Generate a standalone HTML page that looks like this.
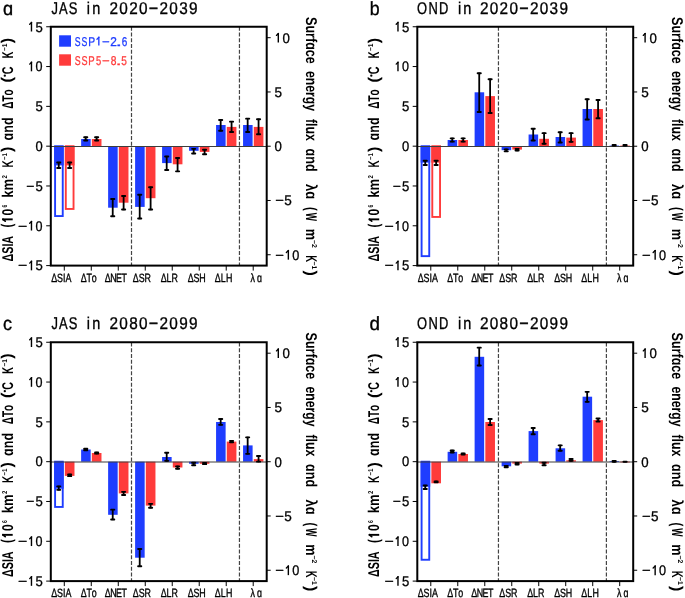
<!DOCTYPE html>
<html><head><meta charset="utf-8"><style>
html,body{margin:0;padding:0;background:#fff;}
svg{display:block;will-change:transform;text-rendering:geometricPrecision;font-family:"Liberation Sans", sans-serif;font-kerning:none;}
</style></head><body>
<svg width="685" height="598" viewBox="0 0 685 598">
<rect width="685" height="598" fill="#fff"/>
<line x1="131.5" y1="26.75" x2="131.5" y2="265.6" stroke="#444" stroke-width="1.2" stroke-dasharray="3.9 1.85" stroke-dashoffset="0"/>
<line x1="239.45" y1="26.75" x2="239.45" y2="265.6" stroke="#444" stroke-width="1.2" stroke-dasharray="3.9 1.85" stroke-dashoffset="0"/>
<rect x="55.09" y="146.2" width="7.65" height="69.85" fill="none" stroke="#1f3dff" stroke-width="1.9"/>
<rect x="54.14" y="146.2" width="9.55" height="19.2" fill="#1f3dff"/>
<rect x="65.79" y="146.2" width="7.75" height="62.75" fill="none" stroke="#ff3b3b" stroke-width="1.9"/>
<rect x="64.84" y="146.2" width="9.65" height="19.2" fill="#ff3b3b"/>
<rect x="81.13" y="139" width="9.55" height="7.2" fill="#1f3dff"/>
<rect x="91.83" y="139" width="9.65" height="7.2" fill="#ff3b3b"/>
<rect x="108.12" y="146.2" width="9.55" height="61.5" fill="#1f3dff"/>
<rect x="118.82" y="146.2" width="9.65" height="56.5" fill="#ff3b3b"/>
<rect x="135.11" y="146.2" width="9.55" height="60.7" fill="#1f3dff"/>
<rect x="145.81" y="146.2" width="9.65" height="52" fill="#ff3b3b"/>
<rect x="162.09" y="146.2" width="9.55" height="16.9" fill="#1f3dff"/>
<rect x="172.79" y="146.2" width="9.65" height="18.1" fill="#ff3b3b"/>
<rect x="189.08" y="146.2" width="9.55" height="4.6" fill="#1f3dff"/>
<rect x="199.78" y="146.2" width="9.65" height="5.7" fill="#ff3b3b"/>
<rect x="216.07" y="125" width="9.55" height="21.2" fill="#1f3dff"/>
<rect x="226.77" y="126.9" width="9.65" height="19.3" fill="#ff3b3b"/>
<rect x="243.06" y="125" width="9.55" height="21.2" fill="#1f3dff"/>
<rect x="253.76" y="126.9" width="9.65" height="19.3" fill="#ff3b3b"/>
<line x1="50.8" y1="146.45" x2="266.7" y2="146.45" stroke="#3c3c3c" stroke-width="1.1"/>
<path d="M58.74 161.9V168.7" stroke="#000" stroke-width="1.8"/>
<path d="M57.14 162.55h3.2M57.14 168.05h3.2" stroke="#000" stroke-width="1.9" stroke-linecap="round"/>
<path d="M69.64 161.8V168.7" stroke="#000" stroke-width="1.8"/>
<path d="M68.04 162.45h3.2M68.04 168.05h3.2" stroke="#000" stroke-width="1.9" stroke-linecap="round"/>
<path d="M85.73 136.6V141.1" stroke="#000" stroke-width="1.8"/>
<path d="M84.13 137.25h3.2M84.13 140.45h3.2" stroke="#000" stroke-width="1.9" stroke-linecap="round"/>
<path d="M96.63 136.6V141.1" stroke="#000" stroke-width="1.8"/>
<path d="M95.03 137.25h3.2M95.03 140.45h3.2" stroke="#000" stroke-width="1.9" stroke-linecap="round"/>
<path d="M112.72 198.3V216.9" stroke="#000" stroke-width="1.8"/>
<path d="M111.12 198.95h3.2M111.12 216.25h3.2" stroke="#000" stroke-width="1.9" stroke-linecap="round"/>
<path d="M123.62 195.3V210.2" stroke="#000" stroke-width="1.8"/>
<path d="M122.02 195.95h3.2M122.02 209.55h3.2" stroke="#000" stroke-width="1.9" stroke-linecap="round"/>
<path d="M139.71 194.1V219.2" stroke="#000" stroke-width="1.8"/>
<path d="M138.11 194.75h3.2M138.11 218.55h3.2" stroke="#000" stroke-width="1.9" stroke-linecap="round"/>
<path d="M150.61 186.6V210.2" stroke="#000" stroke-width="1.8"/>
<path d="M149.01 187.25h3.2M149.01 209.55h3.2" stroke="#000" stroke-width="1.9" stroke-linecap="round"/>
<path d="M166.69 155.9V170.7" stroke="#000" stroke-width="1.8"/>
<path d="M165.09 156.55h3.2M165.09 170.05h3.2" stroke="#000" stroke-width="1.9" stroke-linecap="round"/>
<path d="M177.59 157.4V172" stroke="#000" stroke-width="1.8"/>
<path d="M175.99 158.05h3.2M175.99 171.35h3.2" stroke="#000" stroke-width="1.9" stroke-linecap="round"/>
<path d="M193.68 148.2V154.1" stroke="#000" stroke-width="1.8"/>
<path d="M192.08 148.85h3.2M192.08 153.45h3.2" stroke="#000" stroke-width="1.9" stroke-linecap="round"/>
<path d="M204.58 149.1V154.9" stroke="#000" stroke-width="1.8"/>
<path d="M202.98 149.75h3.2M202.98 154.25h3.2" stroke="#000" stroke-width="1.9" stroke-linecap="round"/>
<path d="M220.67 119.3V131.4" stroke="#000" stroke-width="1.8"/>
<path d="M219.07 119.95h3.2M219.07 130.75h3.2" stroke="#000" stroke-width="1.9" stroke-linecap="round"/>
<path d="M231.57 121V132.6" stroke="#000" stroke-width="1.8"/>
<path d="M229.97 121.65h3.2M229.97 131.95h3.2" stroke="#000" stroke-width="1.9" stroke-linecap="round"/>
<path d="M247.66 118V132.6" stroke="#000" stroke-width="1.8"/>
<path d="M246.06 118.65h3.2M246.06 131.95h3.2" stroke="#000" stroke-width="1.9" stroke-linecap="round"/>
<path d="M258.56 118.6V134.9" stroke="#000" stroke-width="1.8"/>
<path d="M256.96 119.25h3.2M256.96 134.25h3.2" stroke="#000" stroke-width="1.9" stroke-linecap="round"/>
<rect x="50.8" y="26.75" width="215.9" height="238.85" fill="none" stroke="#000" stroke-width="2"/>
<line x1="46.2" y1="26.75" x2="50.8" y2="26.75" stroke="#000" stroke-width="1"/>
<path d="M31.47 21.85V31.5" stroke="#000" stroke-width="1.4"/>
<path d="M31.57 22.4L29.7 24.3" stroke="#000" stroke-width="1.33" stroke-linecap="round"/>
<text transform="translate(35.38 31.5) scale(0.95 1)" font-size="13.8" stroke="#000" stroke-width="0.3">5</text>
<line x1="46.2" y1="66.56" x2="50.8" y2="66.56" stroke="#000" stroke-width="1"/>
<path d="M31.47 61.66V71.31" stroke="#000" stroke-width="1.4"/>
<path d="M31.57 62.21L29.7 64.11" stroke="#000" stroke-width="1.33" stroke-linecap="round"/>
<text transform="translate(35.61 71.31) scale(0.91 1)" font-size="13.8" stroke="#000" stroke-width="0.3">0</text>
<line x1="46.2" y1="106.37" x2="50.8" y2="106.37" stroke="#000" stroke-width="1"/>
<text transform="translate(35.38 111.12) scale(0.95 1)" font-size="13.8" stroke="#000" stroke-width="0.3">5</text>
<line x1="46.2" y1="146.18" x2="50.8" y2="146.18" stroke="#000" stroke-width="1"/>
<text transform="translate(35.49 150.93) scale(0.94 1)" font-size="13.8" stroke="#000" stroke-width="0.3">0</text>
<line x1="46.2" y1="185.98" x2="50.8" y2="185.98" stroke="#000" stroke-width="1"/>
<text transform="translate(26.31 190.73) scale(1.01 1)" font-size="13.8" stroke="#000" stroke-width="0.3">−</text>
<text transform="translate(35.38 190.73) scale(0.95 1)" font-size="13.8" stroke="#000" stroke-width="0.3">5</text>
<line x1="46.2" y1="225.79" x2="50.8" y2="225.79" stroke="#000" stroke-width="1"/>
<text transform="translate(18.12 230.54) scale(1.15 1)" font-size="13.8" stroke="#000" stroke-width="0.3">−</text>
<path d="M31.47 220.89V230.54" stroke="#000" stroke-width="1.4"/>
<path d="M31.57 221.44L29.7 223.34" stroke="#000" stroke-width="1.33" stroke-linecap="round"/>
<text transform="translate(35.61 230.54) scale(0.91 1)" font-size="13.8" stroke="#000" stroke-width="0.3">0</text>
<line x1="46.2" y1="265.6" x2="50.8" y2="265.6" stroke="#000" stroke-width="1"/>
<text transform="translate(18.12 270.35) scale(1.15 1)" font-size="13.8" stroke="#000" stroke-width="0.3">−</text>
<path d="M31.47 260.7V270.35" stroke="#000" stroke-width="1.4"/>
<path d="M31.57 261.25L29.7 263.15" stroke="#000" stroke-width="1.33" stroke-linecap="round"/>
<text transform="translate(35.38 270.35) scale(0.95 1)" font-size="13.8" stroke="#000" stroke-width="0.3">5</text>
<line x1="266.7" y1="37.7" x2="270.7" y2="37.7" stroke="#000" stroke-width="1"/>
<path d="M278.3 32.95V42.6" stroke="#000" stroke-width="1.4"/>
<path d="M278.4 33.5L276.45 35.4" stroke="#000" stroke-width="1.33" stroke-linecap="round"/>
<text transform="translate(282.59 42.6) scale(0.96 1)" font-size="13.8" stroke="#000" stroke-width="0.3">0</text>
<line x1="266.7" y1="91.96" x2="270.7" y2="91.96" stroke="#000" stroke-width="1"/>
<text transform="translate(274.46 96.86) scale(0.98 1)" font-size="13.8" stroke="#000" stroke-width="0.3">5</text>
<line x1="266.7" y1="146.22" x2="270.7" y2="146.22" stroke="#000" stroke-width="1"/>
<text transform="translate(274.49 151.12) scale(0.96 1)" font-size="13.8" stroke="#000" stroke-width="0.3">0</text>
<line x1="266.7" y1="200.48" x2="270.7" y2="200.48" stroke="#000" stroke-width="1"/>
<text transform="translate(275.17 205.38) scale(1.07 1)" font-size="13.8" stroke="#000" stroke-width="0.3">−</text>
<text transform="translate(284.16 205.38) scale(0.98 1)" font-size="13.8" stroke="#000" stroke-width="0.3">5</text>
<line x1="266.7" y1="254.74" x2="270.7" y2="254.74" stroke="#000" stroke-width="1"/>
<text transform="translate(275.17 259.64) scale(1.07 1)" font-size="13.8" stroke="#000" stroke-width="0.3">−</text>
<path d="M288.35 249.99V259.64" stroke="#000" stroke-width="1.4"/>
<path d="M288.45 250.54L286.35 252.44" stroke="#000" stroke-width="1.33" stroke-linecap="round"/>
<text transform="translate(292.3 259.64) scale(0.92 1)" font-size="13.8" stroke="#000" stroke-width="0.3">0</text>
<line x1="64.29" y1="265.6" x2="64.29" y2="270.6" stroke="#000" stroke-width="1"/>
<text transform="translate(51.24 281.9) scale(0.74 1)" font-size="12" stroke="#000" stroke-width="0.35">Δ</text>
<text transform="translate(57.11 281.9) scale(0.74 1)" font-size="12" stroke="#000" stroke-width="0.35">S</text>
<text transform="translate(62.98 281.9) scale(0.74 1)" font-size="12" stroke="#000" stroke-width="0.35">I</text>
<text transform="translate(65.39 281.9) scale(0.74 1)" font-size="12" stroke="#000" stroke-width="0.35">A</text>
<line x1="91.28" y1="265.6" x2="91.28" y2="270.6" stroke="#000" stroke-width="1"/>
<text transform="translate(80.64 281.9) scale(0.74 1)" font-size="12" stroke="#000" stroke-width="0.35">Δ</text>
<text transform="translate(86.39 281.9) scale(0.74 1)" font-size="12" stroke="#000" stroke-width="0.35">T</text>
<text transform="translate(91.63 281.9) scale(0.74 1)" font-size="12" stroke="#000" stroke-width="0.35">o</text>
<line x1="118.27" y1="265.6" x2="118.27" y2="270.6" stroke="#000" stroke-width="1"/>
<text transform="translate(104.74 281.9) scale(0.74 1)" font-size="12" stroke="#000" stroke-width="0.35">Δ</text>
<text transform="translate(110.16 281.9) scale(0.74 1)" font-size="12" stroke="#000" stroke-width="0.35">N</text>
<text transform="translate(116.06 281.9) scale(0.74 1)" font-size="12" stroke="#000" stroke-width="0.35">E</text>
<text transform="translate(121.48 281.9) scale(0.74 1)" font-size="12" stroke="#000" stroke-width="0.35">T</text>
<line x1="145.26" y1="265.6" x2="145.26" y2="270.6" stroke="#000" stroke-width="1"/>
<text transform="translate(132.84 281.9) scale(0.74 1)" font-size="12" stroke="#000" stroke-width="0.35">Δ</text>
<text transform="translate(138.67 281.9) scale(0.74 1)" font-size="12" stroke="#000" stroke-width="0.35">S</text>
<text transform="translate(144.5 281.9) scale(0.74 1)" font-size="12" stroke="#000" stroke-width="0.35">R</text>
<line x1="172.24" y1="265.6" x2="172.24" y2="270.6" stroke="#000" stroke-width="1"/>
<text transform="translate(160.84 281.9) scale(0.74 1)" font-size="12" stroke="#000" stroke-width="0.35">Δ</text>
<text transform="translate(166.61 281.9) scale(0.74 1)" font-size="12" stroke="#000" stroke-width="0.35">L</text>
<text transform="translate(171.4 281.9) scale(0.74 1)" font-size="12" stroke="#000" stroke-width="0.35">R</text>
<line x1="199.23" y1="265.6" x2="199.23" y2="270.6" stroke="#000" stroke-width="1"/>
<text transform="translate(187.64 281.9) scale(0.74 1)" font-size="12" stroke="#000" stroke-width="0.35">Δ</text>
<text transform="translate(193.43 281.9) scale(0.74 1)" font-size="12" stroke="#000" stroke-width="0.35">S</text>
<text transform="translate(199.21 281.9) scale(0.74 1)" font-size="12" stroke="#000" stroke-width="0.35">H</text>
<line x1="226.22" y1="265.6" x2="226.22" y2="270.6" stroke="#000" stroke-width="1"/>
<text transform="translate(214.64 281.9) scale(0.74 1)" font-size="12" stroke="#000" stroke-width="0.35">Δ</text>
<text transform="translate(220.77 281.9) scale(0.74 1)" font-size="12" stroke="#000" stroke-width="0.35">L</text>
<text transform="translate(225.91 281.9) scale(0.74 1)" font-size="12" stroke="#000" stroke-width="0.35">H</text>
<line x1="253.21" y1="265.6" x2="253.21" y2="270.6" stroke="#000" stroke-width="1"/>
<text transform="translate(250.44 281.9) scale(0.74 1)" font-size="12" stroke="#000" stroke-width="0.35">λ</text>
<text transform="translate(256.93 281.9) scale(0.74 1)" font-size="12" stroke="#000" stroke-width="0.35">ɑ</text>
<text transform="translate(51.4 13.6) scale(0.76 1)" font-size="17" stroke="#000" stroke-width="0.35">J</text>
<text transform="translate(59.01 13.6) scale(0.76 1)" font-size="17" stroke="#000" stroke-width="0.35">A</text>
<text transform="translate(68.78 13.6) scale(0.76 1)" font-size="17" stroke="#000" stroke-width="0.35">S</text>
<text transform="translate(86.83 13.6) scale(0.85 1)" font-size="17" stroke="#000" stroke-width="0.35">i</text>
<text transform="translate(92.2 13.6) scale(0.85 1)" font-size="17" stroke="#000" stroke-width="0.35">n</text>
<text transform="translate(109.53 13.6) scale(0.9 1)" font-size="17" stroke="#000" stroke-width="0.35">2</text>
<text transform="translate(119.35 13.6) scale(0.9 1)" font-size="17" stroke="#000" stroke-width="0.35">0</text>
<text transform="translate(129.17 13.6) scale(0.9 1)" font-size="17" stroke="#000" stroke-width="0.35">2</text>
<text transform="translate(138.99 13.6) scale(0.9 1)" font-size="17" stroke="#000" stroke-width="0.35">0</text>
<text transform="translate(148.81 13.6) scale(0.95 1)" font-size="17" stroke="#000" stroke-width="0.35">−</text>
<text transform="translate(159.55 13.6) scale(0.9 1)" font-size="17" stroke="#000" stroke-width="0.35">2</text>
<text transform="translate(169.37 13.6) scale(0.9 1)" font-size="17" stroke="#000" stroke-width="0.35">0</text>
<text transform="translate(179.2 13.6) scale(0.9 1)" font-size="17" stroke="#000" stroke-width="0.35">3</text>
<text transform="translate(189.02 13.6) scale(0.9 1)" font-size="17" stroke="#000" stroke-width="0.35">9</text>
<text x="3.03" y="14.5" font-size="19" stroke="#000" stroke-width="0.35" textLength="10.14" lengthAdjust="spacingAndGlyphs">ɑ</text>
<text transform="translate(12.7 0) rotate(-90)" x="-261.43" y="0" font-size="15.6" font-weight="bold" textLength="25.52" lengthAdjust="spacingAndGlyphs">ΔSIA</text>
<text transform="translate(12.1 0) rotate(-90)" x="-227.58" y="0" font-size="15.6" font-weight="bold" textLength="3.89" lengthAdjust="spacingAndGlyphs">(</text>
<g transform="translate(12.7 0) rotate(-90)"><path d="M-219.35 -10.45V0" stroke="#000" stroke-width="1.9"/><path d="M-219.25 -9.8L-221.1 -7.5" stroke="#000" stroke-width="1.71" stroke-linecap="round"/></g>
<text transform="translate(12.7 0) rotate(-90)" x="-215.57" y="0" font-size="15.6" font-weight="bold" textLength="6.67" lengthAdjust="spacingAndGlyphs">0</text>
<text transform="translate(6.8 0) rotate(-90)" x="-207.58" y="0" font-size="7" font-weight="bold" textLength="2.76" lengthAdjust="spacingAndGlyphs">6</text>
<text transform="translate(12.7 0) rotate(-90)" x="-197.7" y="0" font-size="15.6" font-weight="bold" textLength="18.71" lengthAdjust="spacingAndGlyphs">km</text>
<text transform="translate(6.8 0) rotate(-90)" x="-178.61" y="0" font-size="7" font-weight="bold" textLength="3.35" lengthAdjust="spacingAndGlyphs">2</text>
<text transform="translate(12.7 0) rotate(-90)" x="-167.56" y="0" font-size="15.6" font-weight="bold" textLength="7.15" lengthAdjust="spacingAndGlyphs">K</text>
<text transform="translate(6.8 0) rotate(-90)" x="-159.95" y="0" font-size="7" font-weight="bold" textLength="6.92" lengthAdjust="spacingAndGlyphs">−1</text>
<text transform="translate(12.1 0) rotate(-90)" x="-151.92" y="0" font-size="15.6" font-weight="bold" textLength="5.43" lengthAdjust="spacingAndGlyphs">)</text>
<text transform="translate(12.7 0) rotate(-90)" x="-140.41" y="0" font-size="15.6" font-weight="bold" textLength="22.94" lengthAdjust="spacingAndGlyphs">ɑnd</text>
<text transform="translate(12.7 0) rotate(-90)" x="-108.7" y="0" font-size="15.6" font-weight="bold" textLength="19.19" lengthAdjust="spacingAndGlyphs">ΔTo</text>
<text transform="translate(12.1 0) rotate(-90)" x="-82.41" y="0" font-size="15.6" font-weight="bold" textLength="5.43" lengthAdjust="spacingAndGlyphs">(</text>
<text transform="translate(12.7 0) rotate(-90)" x="-74.24" y="0" font-size="15.6" font-weight="bold" textLength="7.73" lengthAdjust="spacingAndGlyphs">C</text>
<circle cx="4.8" cy="75.65" r="1.15"/>
<text transform="translate(12.7 0) rotate(-90)" x="-58.22" y="0" font-size="15.6" font-weight="bold" textLength="6.71" lengthAdjust="spacingAndGlyphs">K</text>
<text transform="translate(6.8 0) rotate(-90)" x="-50.97" y="0" font-size="7" font-weight="bold" textLength="7.35" lengthAdjust="spacingAndGlyphs">−1</text>
<text transform="translate(12.1 0) rotate(-90)" x="-43.32" y="0" font-size="15.6" font-weight="bold" textLength="5.43" lengthAdjust="spacingAndGlyphs">)</text>
<text transform="translate(305.85 0) rotate(90)" x="17.04" y="0" font-size="15.6" font-weight="bold" textLength="46.79" lengthAdjust="spacingAndGlyphs">Surfɑce</text>
<text transform="translate(305.85 0) rotate(90)" x="71.02" y="0" font-size="15.6" font-weight="bold" textLength="40.14" lengthAdjust="spacingAndGlyphs">energy</text>
<text transform="translate(305.85 0) rotate(90)" x="118.99" y="0" font-size="15.6" font-weight="bold" textLength="21.9" lengthAdjust="spacingAndGlyphs">flux</text>
<text transform="translate(305.85 0) rotate(90)" x="148.58" y="0" font-size="15.6" font-weight="bold" textLength="23.04" lengthAdjust="spacingAndGlyphs">ɑnd</text>
<text transform="translate(305.85 0) rotate(90)" x="184.04" y="0" font-size="15.6" font-weight="bold" textLength="15.22" lengthAdjust="spacingAndGlyphs">λɑ</text>
<text transform="translate(305.6 0) rotate(90)" x="207.04" y="0" font-size="15.6" font-weight="bold" textLength="3.78" lengthAdjust="spacingAndGlyphs">(</text>
<text transform="translate(305.85 0) rotate(90)" x="212.69" y="0" font-size="15.6" font-weight="bold" textLength="8.22" lengthAdjust="spacingAndGlyphs">W</text>
<text transform="translate(305.85 0) rotate(90)" x="228.76" y="0" font-size="15.6" font-weight="bold" textLength="11.33" lengthAdjust="spacingAndGlyphs">m</text>
<text transform="translate(311.9 0) rotate(90)" x="239.91" y="0" font-size="7" font-weight="bold" textLength="7.86" lengthAdjust="spacingAndGlyphs">−2</text>
<text transform="translate(305.85 0) rotate(90)" x="255.16" y="0" font-size="15.6" font-weight="bold" textLength="6.93" lengthAdjust="spacingAndGlyphs">K</text>
<text transform="translate(311.9 0) rotate(90)" x="261.51" y="0" font-size="7" font-weight="bold" textLength="7.88" lengthAdjust="spacingAndGlyphs">−1</text>
<text transform="translate(305.6 0) rotate(90)" x="270.48" y="0" font-size="15.6" font-weight="bold" textLength="5.43" lengthAdjust="spacingAndGlyphs">)</text>
<line x1="498.45" y1="26.75" x2="498.45" y2="265.6" stroke="#444" stroke-width="1.2" stroke-dasharray="3.9 1.85" stroke-dashoffset="0"/>
<line x1="606.4" y1="26.75" x2="606.4" y2="265.6" stroke="#444" stroke-width="1.2" stroke-dasharray="3.9 1.85" stroke-dashoffset="0"/>
<rect x="421.59" y="146.2" width="7.65" height="109.95" fill="none" stroke="#1f3dff" stroke-width="1.9"/>
<rect x="420.64" y="146.2" width="9.55" height="16.4" fill="#1f3dff"/>
<rect x="432.29" y="146.2" width="7.75" height="70.75" fill="none" stroke="#ff3b3b" stroke-width="1.9"/>
<rect x="431.34" y="146.2" width="9.65" height="16.4" fill="#ff3b3b"/>
<rect x="447.63" y="140" width="9.55" height="6.2" fill="#1f3dff"/>
<rect x="458.33" y="140" width="9.65" height="6.2" fill="#ff3b3b"/>
<rect x="474.62" y="92.3" width="9.55" height="53.9" fill="#1f3dff"/>
<rect x="485.32" y="96.1" width="9.65" height="50.1" fill="#ff3b3b"/>
<rect x="501.61" y="146.2" width="9.55" height="4" fill="#1f3dff"/>
<rect x="512.31" y="146.2" width="9.65" height="3.4" fill="#ff3b3b"/>
<rect x="528.59" y="134.5" width="9.55" height="11.7" fill="#1f3dff"/>
<rect x="539.29" y="138.8" width="9.65" height="7.4" fill="#ff3b3b"/>
<rect x="555.58" y="137" width="9.55" height="9.2" fill="#1f3dff"/>
<rect x="566.28" y="137.6" width="9.65" height="8.6" fill="#ff3b3b"/>
<rect x="582.57" y="109" width="9.55" height="37.2" fill="#1f3dff"/>
<rect x="593.27" y="109" width="9.65" height="37.2" fill="#ff3b3b"/>
<rect x="609.56" y="145.6" width="9.55" height="0.8" fill="#1f3dff"/>
<rect x="620.26" y="145.6" width="9.65" height="0.8" fill="#ff3b3b"/>
<line x1="417.3" y1="146.45" x2="633.2" y2="146.45" stroke="#3c3c3c" stroke-width="1.1"/>
<path d="M425.24 160.1V165.6" stroke="#000" stroke-width="1.8"/>
<path d="M423.64 160.75h3.2M423.64 164.95h3.2" stroke="#000" stroke-width="1.9" stroke-linecap="round"/>
<path d="M436.14 160.1V165.6" stroke="#000" stroke-width="1.8"/>
<path d="M434.54 160.75h3.2M434.54 164.95h3.2" stroke="#000" stroke-width="1.9" stroke-linecap="round"/>
<path d="M452.23 137.7V142.3" stroke="#000" stroke-width="1.8"/>
<path d="M450.63 138.35h3.2M450.63 141.65h3.2" stroke="#000" stroke-width="1.9" stroke-linecap="round"/>
<path d="M463.13 137.7V142.3" stroke="#000" stroke-width="1.8"/>
<path d="M461.53 138.35h3.2M461.53 141.65h3.2" stroke="#000" stroke-width="1.9" stroke-linecap="round"/>
<path d="M479.22 72.6V112.6" stroke="#000" stroke-width="1.8"/>
<path d="M477.62 73.25h3.2M477.62 111.95h3.2" stroke="#000" stroke-width="1.9" stroke-linecap="round"/>
<path d="M490.12 78.6V113.7" stroke="#000" stroke-width="1.8"/>
<path d="M488.52 79.25h3.2M488.52 113.05h3.2" stroke="#000" stroke-width="1.9" stroke-linecap="round"/>
<path d="M506.21 148.7V152" stroke="#000" stroke-width="1.8"/>
<path d="M504.61 149.35h3.2M504.61 151.35h3.2" stroke="#000" stroke-width="1.9" stroke-linecap="round"/>
<path d="M517.11 148.2V151.2" stroke="#000" stroke-width="1.8"/>
<path d="M515.51 148.85h3.2M515.51 150.55h3.2" stroke="#000" stroke-width="1.9" stroke-linecap="round"/>
<path d="M533.19 128.1V141.1" stroke="#000" stroke-width="1.8"/>
<path d="M531.59 128.75h3.2M531.59 140.45h3.2" stroke="#000" stroke-width="1.9" stroke-linecap="round"/>
<path d="M544.09 132.5V144.4" stroke="#000" stroke-width="1.8"/>
<path d="M542.49 133.15h3.2M542.49 143.75h3.2" stroke="#000" stroke-width="1.9" stroke-linecap="round"/>
<path d="M560.18 131.6V143.1" stroke="#000" stroke-width="1.8"/>
<path d="M558.58 132.25h3.2M558.58 142.45h3.2" stroke="#000" stroke-width="1.9" stroke-linecap="round"/>
<path d="M571.08 132.5V142.5" stroke="#000" stroke-width="1.8"/>
<path d="M569.48 133.15h3.2M569.48 141.85h3.2" stroke="#000" stroke-width="1.9" stroke-linecap="round"/>
<path d="M587.17 98.6V120.1" stroke="#000" stroke-width="1.8"/>
<path d="M585.57 99.25h3.2M585.57 119.45h3.2" stroke="#000" stroke-width="1.9" stroke-linecap="round"/>
<path d="M598.07 99.3V118.9" stroke="#000" stroke-width="1.8"/>
<path d="M596.47 99.95h3.2M596.47 118.25h3.2" stroke="#000" stroke-width="1.9" stroke-linecap="round"/>
<path d="M614.16 144.4V146.2" stroke="#000" stroke-width="1.8"/>
<path d="M612.56 145.05h3.2M612.56 145.55h3.2" stroke="#000" stroke-width="1.9" stroke-linecap="round"/>
<path d="M625.06 144.4V146.2" stroke="#000" stroke-width="1.8"/>
<path d="M623.46 145.05h3.2M623.46 145.55h3.2" stroke="#000" stroke-width="1.9" stroke-linecap="round"/>
<rect x="417.3" y="26.75" width="215.9" height="238.85" fill="none" stroke="#000" stroke-width="2"/>
<line x1="412.7" y1="26.75" x2="417.3" y2="26.75" stroke="#000" stroke-width="1"/>
<path d="M397.97 21.85V31.5" stroke="#000" stroke-width="1.4"/>
<path d="M398.07 22.4L396.2 24.3" stroke="#000" stroke-width="1.33" stroke-linecap="round"/>
<text transform="translate(401.88 31.5) scale(0.95 1)" font-size="13.8" stroke="#000" stroke-width="0.3">5</text>
<line x1="412.7" y1="66.56" x2="417.3" y2="66.56" stroke="#000" stroke-width="1"/>
<path d="M397.97 61.66V71.31" stroke="#000" stroke-width="1.4"/>
<path d="M398.07 62.21L396.2 64.11" stroke="#000" stroke-width="1.33" stroke-linecap="round"/>
<text transform="translate(402.11 71.31) scale(0.91 1)" font-size="13.8" stroke="#000" stroke-width="0.3">0</text>
<line x1="412.7" y1="106.37" x2="417.3" y2="106.37" stroke="#000" stroke-width="1"/>
<text transform="translate(401.88 111.12) scale(0.95 1)" font-size="13.8" stroke="#000" stroke-width="0.3">5</text>
<line x1="412.7" y1="146.18" x2="417.3" y2="146.18" stroke="#000" stroke-width="1"/>
<text transform="translate(401.99 150.93) scale(0.94 1)" font-size="13.8" stroke="#000" stroke-width="0.3">0</text>
<line x1="412.7" y1="185.98" x2="417.3" y2="185.98" stroke="#000" stroke-width="1"/>
<text transform="translate(392.81 190.73) scale(1.01 1)" font-size="13.8" stroke="#000" stroke-width="0.3">−</text>
<text transform="translate(401.88 190.73) scale(0.95 1)" font-size="13.8" stroke="#000" stroke-width="0.3">5</text>
<line x1="412.7" y1="225.79" x2="417.3" y2="225.79" stroke="#000" stroke-width="1"/>
<text transform="translate(384.62 230.54) scale(1.15 1)" font-size="13.8" stroke="#000" stroke-width="0.3">−</text>
<path d="M397.97 220.89V230.54" stroke="#000" stroke-width="1.4"/>
<path d="M398.07 221.44L396.2 223.34" stroke="#000" stroke-width="1.33" stroke-linecap="round"/>
<text transform="translate(402.11 230.54) scale(0.91 1)" font-size="13.8" stroke="#000" stroke-width="0.3">0</text>
<line x1="412.7" y1="265.6" x2="417.3" y2="265.6" stroke="#000" stroke-width="1"/>
<text transform="translate(384.62 270.35) scale(1.15 1)" font-size="13.8" stroke="#000" stroke-width="0.3">−</text>
<path d="M397.97 260.7V270.35" stroke="#000" stroke-width="1.4"/>
<path d="M398.07 261.25L396.2 263.15" stroke="#000" stroke-width="1.33" stroke-linecap="round"/>
<text transform="translate(401.88 270.35) scale(0.95 1)" font-size="13.8" stroke="#000" stroke-width="0.3">5</text>
<line x1="633.2" y1="37.7" x2="637.2" y2="37.7" stroke="#000" stroke-width="1"/>
<path d="M645.1 32.95V42.6" stroke="#000" stroke-width="1.4"/>
<path d="M645.2 33.5L643.25 35.4" stroke="#000" stroke-width="1.33" stroke-linecap="round"/>
<text transform="translate(649.39 42.6) scale(0.96 1)" font-size="13.8" stroke="#000" stroke-width="0.3">0</text>
<line x1="633.2" y1="91.96" x2="637.2" y2="91.96" stroke="#000" stroke-width="1"/>
<text transform="translate(641.26 96.86) scale(0.98 1)" font-size="13.8" stroke="#000" stroke-width="0.3">5</text>
<line x1="633.2" y1="146.22" x2="637.2" y2="146.22" stroke="#000" stroke-width="1"/>
<text transform="translate(641.29 151.12) scale(0.96 1)" font-size="13.8" stroke="#000" stroke-width="0.3">0</text>
<line x1="633.2" y1="200.48" x2="637.2" y2="200.48" stroke="#000" stroke-width="1"/>
<text transform="translate(641.97 205.38) scale(1.07 1)" font-size="13.8" stroke="#000" stroke-width="0.3">−</text>
<text transform="translate(650.96 205.38) scale(0.98 1)" font-size="13.8" stroke="#000" stroke-width="0.3">5</text>
<line x1="633.2" y1="254.74" x2="637.2" y2="254.74" stroke="#000" stroke-width="1"/>
<text transform="translate(641.97 259.64) scale(1.07 1)" font-size="13.8" stroke="#000" stroke-width="0.3">−</text>
<path d="M655.15 249.99V259.64" stroke="#000" stroke-width="1.4"/>
<path d="M655.25 250.54L653.15 252.44" stroke="#000" stroke-width="1.33" stroke-linecap="round"/>
<text transform="translate(659.1 259.64) scale(0.92 1)" font-size="13.8" stroke="#000" stroke-width="0.3">0</text>
<line x1="430.79" y1="265.6" x2="430.79" y2="270.6" stroke="#000" stroke-width="1"/>
<text transform="translate(417.74 281.9) scale(0.74 1)" font-size="12" stroke="#000" stroke-width="0.35">Δ</text>
<text transform="translate(423.61 281.9) scale(0.74 1)" font-size="12" stroke="#000" stroke-width="0.35">S</text>
<text transform="translate(429.48 281.9) scale(0.74 1)" font-size="12" stroke="#000" stroke-width="0.35">I</text>
<text transform="translate(431.89 281.9) scale(0.74 1)" font-size="12" stroke="#000" stroke-width="0.35">A</text>
<line x1="457.78" y1="265.6" x2="457.78" y2="270.6" stroke="#000" stroke-width="1"/>
<text transform="translate(447.14 281.9) scale(0.74 1)" font-size="12" stroke="#000" stroke-width="0.35">Δ</text>
<text transform="translate(452.89 281.9) scale(0.74 1)" font-size="12" stroke="#000" stroke-width="0.35">T</text>
<text transform="translate(458.13 281.9) scale(0.74 1)" font-size="12" stroke="#000" stroke-width="0.35">o</text>
<line x1="484.77" y1="265.6" x2="484.77" y2="270.6" stroke="#000" stroke-width="1"/>
<text transform="translate(471.24 281.9) scale(0.74 1)" font-size="12" stroke="#000" stroke-width="0.35">Δ</text>
<text transform="translate(476.66 281.9) scale(0.74 1)" font-size="12" stroke="#000" stroke-width="0.35">N</text>
<text transform="translate(482.56 281.9) scale(0.74 1)" font-size="12" stroke="#000" stroke-width="0.35">E</text>
<text transform="translate(487.98 281.9) scale(0.74 1)" font-size="12" stroke="#000" stroke-width="0.35">T</text>
<line x1="511.76" y1="265.6" x2="511.76" y2="270.6" stroke="#000" stroke-width="1"/>
<text transform="translate(499.34 281.9) scale(0.74 1)" font-size="12" stroke="#000" stroke-width="0.35">Δ</text>
<text transform="translate(505.17 281.9) scale(0.74 1)" font-size="12" stroke="#000" stroke-width="0.35">S</text>
<text transform="translate(511 281.9) scale(0.74 1)" font-size="12" stroke="#000" stroke-width="0.35">R</text>
<line x1="538.74" y1="265.6" x2="538.74" y2="270.6" stroke="#000" stroke-width="1"/>
<text transform="translate(527.34 281.9) scale(0.74 1)" font-size="12" stroke="#000" stroke-width="0.35">Δ</text>
<text transform="translate(533.11 281.9) scale(0.74 1)" font-size="12" stroke="#000" stroke-width="0.35">L</text>
<text transform="translate(537.9 281.9) scale(0.74 1)" font-size="12" stroke="#000" stroke-width="0.35">R</text>
<line x1="565.73" y1="265.6" x2="565.73" y2="270.6" stroke="#000" stroke-width="1"/>
<text transform="translate(554.14 281.9) scale(0.74 1)" font-size="12" stroke="#000" stroke-width="0.35">Δ</text>
<text transform="translate(559.93 281.9) scale(0.74 1)" font-size="12" stroke="#000" stroke-width="0.35">S</text>
<text transform="translate(565.71 281.9) scale(0.74 1)" font-size="12" stroke="#000" stroke-width="0.35">H</text>
<line x1="592.72" y1="265.6" x2="592.72" y2="270.6" stroke="#000" stroke-width="1"/>
<text transform="translate(581.14 281.9) scale(0.74 1)" font-size="12" stroke="#000" stroke-width="0.35">Δ</text>
<text transform="translate(587.27 281.9) scale(0.74 1)" font-size="12" stroke="#000" stroke-width="0.35">L</text>
<text transform="translate(592.41 281.9) scale(0.74 1)" font-size="12" stroke="#000" stroke-width="0.35">H</text>
<line x1="619.71" y1="265.6" x2="619.71" y2="270.6" stroke="#000" stroke-width="1"/>
<text transform="translate(616.94 281.9) scale(0.74 1)" font-size="12" stroke="#000" stroke-width="0.35">λ</text>
<text transform="translate(623.43 281.9) scale(0.74 1)" font-size="12" stroke="#000" stroke-width="0.35">ɑ</text>
<text transform="translate(417.09 13.6) scale(0.76 1)" font-size="17" stroke="#000" stroke-width="0.35">O</text>
<text transform="translate(428.45 13.6) scale(0.76 1)" font-size="17" stroke="#000" stroke-width="0.35">N</text>
<text transform="translate(439.09 13.6) scale(0.76 1)" font-size="17" stroke="#000" stroke-width="0.35">D</text>
<text transform="translate(457.93 13.6) scale(0.85 1)" font-size="17" stroke="#000" stroke-width="0.35">i</text>
<text transform="translate(463.3 13.6) scale(0.85 1)" font-size="17" stroke="#000" stroke-width="0.35">n</text>
<text transform="translate(479.93 13.6) scale(0.9 1)" font-size="17" stroke="#000" stroke-width="0.35">2</text>
<text transform="translate(489.75 13.6) scale(0.9 1)" font-size="17" stroke="#000" stroke-width="0.35">0</text>
<text transform="translate(499.57 13.6) scale(0.9 1)" font-size="17" stroke="#000" stroke-width="0.35">2</text>
<text transform="translate(509.39 13.6) scale(0.9 1)" font-size="17" stroke="#000" stroke-width="0.35">0</text>
<text transform="translate(519.21 13.6) scale(0.95 1)" font-size="17" stroke="#000" stroke-width="0.35">−</text>
<text transform="translate(529.95 13.6) scale(0.9 1)" font-size="17" stroke="#000" stroke-width="0.35">2</text>
<text transform="translate(539.77 13.6) scale(0.9 1)" font-size="17" stroke="#000" stroke-width="0.35">0</text>
<text transform="translate(549.6 13.6) scale(0.9 1)" font-size="17" stroke="#000" stroke-width="0.35">3</text>
<text transform="translate(559.42 13.6) scale(0.9 1)" font-size="17" stroke="#000" stroke-width="0.35">9</text>
<text x="369.85" y="14.5" font-size="19" stroke="#000" stroke-width="0.35" textLength="9.89" lengthAdjust="spacingAndGlyphs">b</text>
<text transform="translate(379.2 0) rotate(-90)" x="-261.43" y="0" font-size="15.6" font-weight="bold" textLength="25.52" lengthAdjust="spacingAndGlyphs">ΔSIA</text>
<text transform="translate(378.6 0) rotate(-90)" x="-227.58" y="0" font-size="15.6" font-weight="bold" textLength="3.89" lengthAdjust="spacingAndGlyphs">(</text>
<g transform="translate(379.2 0) rotate(-90)"><path d="M-219.35 -10.45V0" stroke="#000" stroke-width="1.9"/><path d="M-219.25 -9.8L-221.1 -7.5" stroke="#000" stroke-width="1.71" stroke-linecap="round"/></g>
<text transform="translate(379.2 0) rotate(-90)" x="-215.57" y="0" font-size="15.6" font-weight="bold" textLength="6.67" lengthAdjust="spacingAndGlyphs">0</text>
<text transform="translate(373.3 0) rotate(-90)" x="-207.58" y="0" font-size="7" font-weight="bold" textLength="2.76" lengthAdjust="spacingAndGlyphs">6</text>
<text transform="translate(379.2 0) rotate(-90)" x="-197.7" y="0" font-size="15.6" font-weight="bold" textLength="18.71" lengthAdjust="spacingAndGlyphs">km</text>
<text transform="translate(373.3 0) rotate(-90)" x="-178.61" y="0" font-size="7" font-weight="bold" textLength="3.35" lengthAdjust="spacingAndGlyphs">2</text>
<text transform="translate(379.2 0) rotate(-90)" x="-167.56" y="0" font-size="15.6" font-weight="bold" textLength="7.15" lengthAdjust="spacingAndGlyphs">K</text>
<text transform="translate(373.3 0) rotate(-90)" x="-159.95" y="0" font-size="7" font-weight="bold" textLength="6.92" lengthAdjust="spacingAndGlyphs">−1</text>
<text transform="translate(378.6 0) rotate(-90)" x="-151.92" y="0" font-size="15.6" font-weight="bold" textLength="5.43" lengthAdjust="spacingAndGlyphs">)</text>
<text transform="translate(379.2 0) rotate(-90)" x="-140.41" y="0" font-size="15.6" font-weight="bold" textLength="22.94" lengthAdjust="spacingAndGlyphs">ɑnd</text>
<text transform="translate(379.2 0) rotate(-90)" x="-108.7" y="0" font-size="15.6" font-weight="bold" textLength="19.19" lengthAdjust="spacingAndGlyphs">ΔTo</text>
<text transform="translate(378.6 0) rotate(-90)" x="-82.41" y="0" font-size="15.6" font-weight="bold" textLength="5.43" lengthAdjust="spacingAndGlyphs">(</text>
<text transform="translate(379.2 0) rotate(-90)" x="-74.24" y="0" font-size="15.6" font-weight="bold" textLength="7.73" lengthAdjust="spacingAndGlyphs">C</text>
<circle cx="371.3" cy="75.65" r="1.15"/>
<text transform="translate(379.2 0) rotate(-90)" x="-58.22" y="0" font-size="15.6" font-weight="bold" textLength="6.71" lengthAdjust="spacingAndGlyphs">K</text>
<text transform="translate(373.3 0) rotate(-90)" x="-50.97" y="0" font-size="7" font-weight="bold" textLength="7.35" lengthAdjust="spacingAndGlyphs">−1</text>
<text transform="translate(378.6 0) rotate(-90)" x="-43.32" y="0" font-size="15.6" font-weight="bold" textLength="5.43" lengthAdjust="spacingAndGlyphs">)</text>
<text transform="translate(672.35 0) rotate(90)" x="17.04" y="0" font-size="15.6" font-weight="bold" textLength="46.79" lengthAdjust="spacingAndGlyphs">Surfɑce</text>
<text transform="translate(672.35 0) rotate(90)" x="71.02" y="0" font-size="15.6" font-weight="bold" textLength="40.14" lengthAdjust="spacingAndGlyphs">energy</text>
<text transform="translate(672.35 0) rotate(90)" x="118.99" y="0" font-size="15.6" font-weight="bold" textLength="21.9" lengthAdjust="spacingAndGlyphs">flux</text>
<text transform="translate(672.35 0) rotate(90)" x="148.58" y="0" font-size="15.6" font-weight="bold" textLength="23.04" lengthAdjust="spacingAndGlyphs">ɑnd</text>
<text transform="translate(672.35 0) rotate(90)" x="184.04" y="0" font-size="15.6" font-weight="bold" textLength="15.22" lengthAdjust="spacingAndGlyphs">λɑ</text>
<text transform="translate(672.1 0) rotate(90)" x="207.04" y="0" font-size="15.6" font-weight="bold" textLength="3.78" lengthAdjust="spacingAndGlyphs">(</text>
<text transform="translate(672.35 0) rotate(90)" x="212.69" y="0" font-size="15.6" font-weight="bold" textLength="8.22" lengthAdjust="spacingAndGlyphs">W</text>
<text transform="translate(672.35 0) rotate(90)" x="228.76" y="0" font-size="15.6" font-weight="bold" textLength="11.33" lengthAdjust="spacingAndGlyphs">m</text>
<text transform="translate(678.4 0) rotate(90)" x="239.91" y="0" font-size="7" font-weight="bold" textLength="7.86" lengthAdjust="spacingAndGlyphs">−2</text>
<text transform="translate(672.35 0) rotate(90)" x="255.16" y="0" font-size="15.6" font-weight="bold" textLength="6.93" lengthAdjust="spacingAndGlyphs">K</text>
<text transform="translate(678.4 0) rotate(90)" x="261.51" y="0" font-size="7" font-weight="bold" textLength="7.88" lengthAdjust="spacingAndGlyphs">−1</text>
<text transform="translate(672.1 0) rotate(90)" x="270.48" y="0" font-size="15.6" font-weight="bold" textLength="5.43" lengthAdjust="spacingAndGlyphs">)</text>
<line x1="131.5" y1="342.25" x2="131.5" y2="581.1" stroke="#444" stroke-width="1.2" stroke-dasharray="3.9 1.85" stroke-dashoffset="-0.3"/>
<line x1="239.45" y1="342.25" x2="239.45" y2="581.1" stroke="#444" stroke-width="1.2" stroke-dasharray="3.9 1.85" stroke-dashoffset="-0.3"/>
<rect x="55.09" y="461.7" width="7.65" height="45.25" fill="none" stroke="#1f3dff" stroke-width="1.9"/>
<rect x="54.14" y="461.7" width="9.55" height="27" fill="#1f3dff"/>
<rect x="64.84" y="461.7" width="9.65" height="14.2" fill="#ff3b3b"/>
<rect x="81.13" y="449.5" width="9.55" height="12.2" fill="#1f3dff"/>
<rect x="91.83" y="453" width="9.65" height="8.7" fill="#ff3b3b"/>
<rect x="108.12" y="461.7" width="9.55" height="53.1" fill="#1f3dff"/>
<rect x="118.82" y="461.7" width="9.65" height="31.7" fill="#ff3b3b"/>
<rect x="135.11" y="461.7" width="9.55" height="96" fill="#1f3dff"/>
<rect x="145.81" y="461.7" width="9.65" height="43.9" fill="#ff3b3b"/>
<rect x="162.09" y="457" width="9.55" height="4.7" fill="#1f3dff"/>
<rect x="172.79" y="461.7" width="9.65" height="5.8" fill="#ff3b3b"/>
<rect x="189.08" y="461.7" width="9.55" height="2.1" fill="#1f3dff"/>
<rect x="199.78" y="461.7" width="9.65" height="2.1" fill="#ff3b3b"/>
<rect x="216.07" y="422" width="9.55" height="39.7" fill="#1f3dff"/>
<rect x="226.77" y="441.6" width="9.65" height="20.1" fill="#ff3b3b"/>
<rect x="243.06" y="445.4" width="9.55" height="16.3" fill="#1f3dff"/>
<rect x="253.76" y="459.1" width="9.65" height="2.6" fill="#ff3b3b"/>
<line x1="50.8" y1="461.95" x2="266.7" y2="461.95" stroke="#3c3c3c" stroke-width="1.1"/>
<path d="M58.74 485.7V490.5" stroke="#000" stroke-width="1.8"/>
<path d="M57.14 486.35h3.2M57.14 489.85h3.2" stroke="#000" stroke-width="1.9" stroke-linecap="round"/>
<path d="M69.64 473.8V476.8" stroke="#000" stroke-width="1.8"/>
<path d="M68.04 474.45h3.2M68.04 476.15h3.2" stroke="#000" stroke-width="1.9" stroke-linecap="round"/>
<path d="M85.73 448.1V450.9" stroke="#000" stroke-width="1.8"/>
<path d="M84.13 448.75h3.2M84.13 450.25h3.2" stroke="#000" stroke-width="1.9" stroke-linecap="round"/>
<path d="M96.63 451.8V454.3" stroke="#000" stroke-width="1.8"/>
<path d="M95.03 452.45h3.2M95.03 453.65h3.2" stroke="#000" stroke-width="1.9" stroke-linecap="round"/>
<path d="M112.72 509V520.1" stroke="#000" stroke-width="1.8"/>
<path d="M111.12 509.65h3.2M111.12 519.45h3.2" stroke="#000" stroke-width="1.9" stroke-linecap="round"/>
<path d="M123.62 491.2V495.7" stroke="#000" stroke-width="1.8"/>
<path d="M122.02 491.85h3.2M122.02 495.05h3.2" stroke="#000" stroke-width="1.9" stroke-linecap="round"/>
<path d="M139.71 548.3V566.9" stroke="#000" stroke-width="1.8"/>
<path d="M138.11 548.95h3.2M138.11 566.25h3.2" stroke="#000" stroke-width="1.9" stroke-linecap="round"/>
<path d="M150.61 503.2V508.4" stroke="#000" stroke-width="1.8"/>
<path d="M149.01 503.85h3.2M149.01 507.75h3.2" stroke="#000" stroke-width="1.9" stroke-linecap="round"/>
<path d="M166.69 452.1V461.5" stroke="#000" stroke-width="1.8"/>
<path d="M165.09 452.75h3.2M165.09 460.85h3.2" stroke="#000" stroke-width="1.9" stroke-linecap="round"/>
<path d="M177.59 465.7V469.4" stroke="#000" stroke-width="1.8"/>
<path d="M175.99 466.35h3.2M175.99 468.75h3.2" stroke="#000" stroke-width="1.9" stroke-linecap="round"/>
<path d="M193.68 462.1V465.9" stroke="#000" stroke-width="1.8"/>
<path d="M192.08 462.75h3.2M192.08 465.25h3.2" stroke="#000" stroke-width="1.9" stroke-linecap="round"/>
<path d="M204.58 462.3V464.8" stroke="#000" stroke-width="1.8"/>
<path d="M202.98 462.95h3.2M202.98 464.15h3.2" stroke="#000" stroke-width="1.9" stroke-linecap="round"/>
<path d="M220.67 418.3V425.5" stroke="#000" stroke-width="1.8"/>
<path d="M219.07 418.95h3.2M219.07 424.85h3.2" stroke="#000" stroke-width="1.9" stroke-linecap="round"/>
<path d="M231.57 440.2V443" stroke="#000" stroke-width="1.8"/>
<path d="M229.97 440.85h3.2M229.97 442.35h3.2" stroke="#000" stroke-width="1.9" stroke-linecap="round"/>
<path d="M247.66 436.7V454.5" stroke="#000" stroke-width="1.8"/>
<path d="M246.06 437.35h3.2M246.06 453.85h3.2" stroke="#000" stroke-width="1.9" stroke-linecap="round"/>
<path d="M258.56 455.4V462.3" stroke="#000" stroke-width="1.8"/>
<path d="M256.96 456.05h3.2M256.96 461.65h3.2" stroke="#000" stroke-width="1.9" stroke-linecap="round"/>
<rect x="50.8" y="342.25" width="215.9" height="238.85" fill="none" stroke="#000" stroke-width="2"/>
<line x1="46.2" y1="342.25" x2="50.8" y2="342.25" stroke="#000" stroke-width="1"/>
<path d="M31.47 337.35V347" stroke="#000" stroke-width="1.4"/>
<path d="M31.57 337.9L29.7 339.8" stroke="#000" stroke-width="1.33" stroke-linecap="round"/>
<text transform="translate(35.38 347) scale(0.95 1)" font-size="13.8" stroke="#000" stroke-width="0.3">5</text>
<line x1="46.2" y1="382.06" x2="50.8" y2="382.06" stroke="#000" stroke-width="1"/>
<path d="M31.47 377.16V386.81" stroke="#000" stroke-width="1.4"/>
<path d="M31.57 377.71L29.7 379.61" stroke="#000" stroke-width="1.33" stroke-linecap="round"/>
<text transform="translate(35.61 386.81) scale(0.91 1)" font-size="13.8" stroke="#000" stroke-width="0.3">0</text>
<line x1="46.2" y1="421.87" x2="50.8" y2="421.87" stroke="#000" stroke-width="1"/>
<text transform="translate(35.38 426.62) scale(0.95 1)" font-size="13.8" stroke="#000" stroke-width="0.3">5</text>
<line x1="46.2" y1="461.68" x2="50.8" y2="461.68" stroke="#000" stroke-width="1"/>
<text transform="translate(35.49 466.43) scale(0.94 1)" font-size="13.8" stroke="#000" stroke-width="0.3">0</text>
<line x1="46.2" y1="501.48" x2="50.8" y2="501.48" stroke="#000" stroke-width="1"/>
<text transform="translate(26.31 506.23) scale(1.01 1)" font-size="13.8" stroke="#000" stroke-width="0.3">−</text>
<text transform="translate(35.38 506.23) scale(0.95 1)" font-size="13.8" stroke="#000" stroke-width="0.3">5</text>
<line x1="46.2" y1="541.29" x2="50.8" y2="541.29" stroke="#000" stroke-width="1"/>
<text transform="translate(18.12 546.04) scale(1.15 1)" font-size="13.8" stroke="#000" stroke-width="0.3">−</text>
<path d="M31.47 536.39V546.04" stroke="#000" stroke-width="1.4"/>
<path d="M31.57 536.94L29.7 538.84" stroke="#000" stroke-width="1.33" stroke-linecap="round"/>
<text transform="translate(35.61 546.04) scale(0.91 1)" font-size="13.8" stroke="#000" stroke-width="0.3">0</text>
<line x1="46.2" y1="581.1" x2="50.8" y2="581.1" stroke="#000" stroke-width="1"/>
<text transform="translate(18.12 585.85) scale(1.15 1)" font-size="13.8" stroke="#000" stroke-width="0.3">−</text>
<path d="M31.47 576.2V585.85" stroke="#000" stroke-width="1.4"/>
<path d="M31.57 576.75L29.7 578.65" stroke="#000" stroke-width="1.33" stroke-linecap="round"/>
<text transform="translate(35.38 585.85) scale(0.95 1)" font-size="13.8" stroke="#000" stroke-width="0.3">5</text>
<line x1="266.7" y1="353.2" x2="270.7" y2="353.2" stroke="#000" stroke-width="1"/>
<path d="M278.3 348.45V358.1" stroke="#000" stroke-width="1.4"/>
<path d="M278.4 349L276.45 350.9" stroke="#000" stroke-width="1.33" stroke-linecap="round"/>
<text transform="translate(282.59 358.1) scale(0.96 1)" font-size="13.8" stroke="#000" stroke-width="0.3">0</text>
<line x1="266.7" y1="407.46" x2="270.7" y2="407.46" stroke="#000" stroke-width="1"/>
<text transform="translate(274.46 412.36) scale(0.98 1)" font-size="13.8" stroke="#000" stroke-width="0.3">5</text>
<line x1="266.7" y1="461.72" x2="270.7" y2="461.72" stroke="#000" stroke-width="1"/>
<text transform="translate(274.49 466.62) scale(0.96 1)" font-size="13.8" stroke="#000" stroke-width="0.3">0</text>
<line x1="266.7" y1="515.98" x2="270.7" y2="515.98" stroke="#000" stroke-width="1"/>
<text transform="translate(275.17 520.88) scale(1.07 1)" font-size="13.8" stroke="#000" stroke-width="0.3">−</text>
<text transform="translate(284.16 520.88) scale(0.98 1)" font-size="13.8" stroke="#000" stroke-width="0.3">5</text>
<line x1="266.7" y1="570.24" x2="270.7" y2="570.24" stroke="#000" stroke-width="1"/>
<text transform="translate(275.17 575.14) scale(1.07 1)" font-size="13.8" stroke="#000" stroke-width="0.3">−</text>
<path d="M288.35 565.49V575.14" stroke="#000" stroke-width="1.4"/>
<path d="M288.45 566.04L286.35 567.94" stroke="#000" stroke-width="1.33" stroke-linecap="round"/>
<text transform="translate(292.3 575.14) scale(0.92 1)" font-size="13.8" stroke="#000" stroke-width="0.3">0</text>
<line x1="64.29" y1="581.1" x2="64.29" y2="586.1" stroke="#000" stroke-width="1"/>
<text transform="translate(51.24 597.4) scale(0.74 1)" font-size="12" stroke="#000" stroke-width="0.35">Δ</text>
<text transform="translate(57.11 597.4) scale(0.74 1)" font-size="12" stroke="#000" stroke-width="0.35">S</text>
<text transform="translate(62.98 597.4) scale(0.74 1)" font-size="12" stroke="#000" stroke-width="0.35">I</text>
<text transform="translate(65.39 597.4) scale(0.74 1)" font-size="12" stroke="#000" stroke-width="0.35">A</text>
<line x1="91.28" y1="581.1" x2="91.28" y2="586.1" stroke="#000" stroke-width="1"/>
<text transform="translate(80.64 597.4) scale(0.74 1)" font-size="12" stroke="#000" stroke-width="0.35">Δ</text>
<text transform="translate(86.39 597.4) scale(0.74 1)" font-size="12" stroke="#000" stroke-width="0.35">T</text>
<text transform="translate(91.63 597.4) scale(0.74 1)" font-size="12" stroke="#000" stroke-width="0.35">o</text>
<line x1="118.27" y1="581.1" x2="118.27" y2="586.1" stroke="#000" stroke-width="1"/>
<text transform="translate(104.74 597.4) scale(0.74 1)" font-size="12" stroke="#000" stroke-width="0.35">Δ</text>
<text transform="translate(110.16 597.4) scale(0.74 1)" font-size="12" stroke="#000" stroke-width="0.35">N</text>
<text transform="translate(116.06 597.4) scale(0.74 1)" font-size="12" stroke="#000" stroke-width="0.35">E</text>
<text transform="translate(121.48 597.4) scale(0.74 1)" font-size="12" stroke="#000" stroke-width="0.35">T</text>
<line x1="145.26" y1="581.1" x2="145.26" y2="586.1" stroke="#000" stroke-width="1"/>
<text transform="translate(132.84 597.4) scale(0.74 1)" font-size="12" stroke="#000" stroke-width="0.35">Δ</text>
<text transform="translate(138.67 597.4) scale(0.74 1)" font-size="12" stroke="#000" stroke-width="0.35">S</text>
<text transform="translate(144.5 597.4) scale(0.74 1)" font-size="12" stroke="#000" stroke-width="0.35">R</text>
<line x1="172.24" y1="581.1" x2="172.24" y2="586.1" stroke="#000" stroke-width="1"/>
<text transform="translate(160.84 597.4) scale(0.74 1)" font-size="12" stroke="#000" stroke-width="0.35">Δ</text>
<text transform="translate(166.61 597.4) scale(0.74 1)" font-size="12" stroke="#000" stroke-width="0.35">L</text>
<text transform="translate(171.4 597.4) scale(0.74 1)" font-size="12" stroke="#000" stroke-width="0.35">R</text>
<line x1="199.23" y1="581.1" x2="199.23" y2="586.1" stroke="#000" stroke-width="1"/>
<text transform="translate(187.64 597.4) scale(0.74 1)" font-size="12" stroke="#000" stroke-width="0.35">Δ</text>
<text transform="translate(193.43 597.4) scale(0.74 1)" font-size="12" stroke="#000" stroke-width="0.35">S</text>
<text transform="translate(199.21 597.4) scale(0.74 1)" font-size="12" stroke="#000" stroke-width="0.35">H</text>
<line x1="226.22" y1="581.1" x2="226.22" y2="586.1" stroke="#000" stroke-width="1"/>
<text transform="translate(214.64 597.4) scale(0.74 1)" font-size="12" stroke="#000" stroke-width="0.35">Δ</text>
<text transform="translate(220.77 597.4) scale(0.74 1)" font-size="12" stroke="#000" stroke-width="0.35">L</text>
<text transform="translate(225.91 597.4) scale(0.74 1)" font-size="12" stroke="#000" stroke-width="0.35">H</text>
<line x1="253.21" y1="581.1" x2="253.21" y2="586.1" stroke="#000" stroke-width="1"/>
<text transform="translate(250.44 597.4) scale(0.74 1)" font-size="12" stroke="#000" stroke-width="0.35">λ</text>
<text transform="translate(256.93 597.4) scale(0.74 1)" font-size="12" stroke="#000" stroke-width="0.35">ɑ</text>
<text transform="translate(51.4 329.1) scale(0.76 1)" font-size="17" stroke="#000" stroke-width="0.35">J</text>
<text transform="translate(59.01 329.1) scale(0.76 1)" font-size="17" stroke="#000" stroke-width="0.35">A</text>
<text transform="translate(68.78 329.1) scale(0.76 1)" font-size="17" stroke="#000" stroke-width="0.35">S</text>
<text transform="translate(86.83 329.1) scale(0.85 1)" font-size="17" stroke="#000" stroke-width="0.35">i</text>
<text transform="translate(92.2 329.1) scale(0.85 1)" font-size="17" stroke="#000" stroke-width="0.35">n</text>
<text transform="translate(109.53 329.1) scale(0.9 1)" font-size="17" stroke="#000" stroke-width="0.35">2</text>
<text transform="translate(119.35 329.1) scale(0.9 1)" font-size="17" stroke="#000" stroke-width="0.35">0</text>
<text transform="translate(129.17 329.1) scale(0.9 1)" font-size="17" stroke="#000" stroke-width="0.35">8</text>
<text transform="translate(138.99 329.1) scale(0.9 1)" font-size="17" stroke="#000" stroke-width="0.35">0</text>
<text transform="translate(148.81 329.1) scale(0.95 1)" font-size="17" stroke="#000" stroke-width="0.35">−</text>
<text transform="translate(159.55 329.1) scale(0.9 1)" font-size="17" stroke="#000" stroke-width="0.35">2</text>
<text transform="translate(169.37 329.1) scale(0.9 1)" font-size="17" stroke="#000" stroke-width="0.35">0</text>
<text transform="translate(179.2 329.1) scale(0.9 1)" font-size="17" stroke="#000" stroke-width="0.35">9</text>
<text transform="translate(189.02 329.1) scale(0.9 1)" font-size="17" stroke="#000" stroke-width="0.35">9</text>
<text x="2.93" y="330" font-size="19" stroke="#000" stroke-width="0.35" textLength="9.05" lengthAdjust="spacingAndGlyphs">c</text>
<text transform="translate(12.7 0) rotate(-90)" x="-576.93" y="0" font-size="15.6" font-weight="bold" textLength="25.52" lengthAdjust="spacingAndGlyphs">ΔSIA</text>
<text transform="translate(12.1 0) rotate(-90)" x="-543.08" y="0" font-size="15.6" font-weight="bold" textLength="3.89" lengthAdjust="spacingAndGlyphs">(</text>
<g transform="translate(12.7 0) rotate(-90)"><path d="M-534.85 -10.45V0" stroke="#000" stroke-width="1.9"/><path d="M-534.75 -9.8L-536.6 -7.5" stroke="#000" stroke-width="1.71" stroke-linecap="round"/></g>
<text transform="translate(12.7 0) rotate(-90)" x="-531.07" y="0" font-size="15.6" font-weight="bold" textLength="6.67" lengthAdjust="spacingAndGlyphs">0</text>
<text transform="translate(6.8 0) rotate(-90)" x="-523.08" y="0" font-size="7" font-weight="bold" textLength="2.76" lengthAdjust="spacingAndGlyphs">6</text>
<text transform="translate(12.7 0) rotate(-90)" x="-513.2" y="0" font-size="15.6" font-weight="bold" textLength="18.71" lengthAdjust="spacingAndGlyphs">km</text>
<text transform="translate(6.8 0) rotate(-90)" x="-494.11" y="0" font-size="7" font-weight="bold" textLength="3.35" lengthAdjust="spacingAndGlyphs">2</text>
<text transform="translate(12.7 0) rotate(-90)" x="-483.06" y="0" font-size="15.6" font-weight="bold" textLength="7.15" lengthAdjust="spacingAndGlyphs">K</text>
<text transform="translate(6.8 0) rotate(-90)" x="-475.45" y="0" font-size="7" font-weight="bold" textLength="6.92" lengthAdjust="spacingAndGlyphs">−1</text>
<text transform="translate(12.1 0) rotate(-90)" x="-467.42" y="0" font-size="15.6" font-weight="bold" textLength="5.43" lengthAdjust="spacingAndGlyphs">)</text>
<text transform="translate(12.7 0) rotate(-90)" x="-455.91" y="0" font-size="15.6" font-weight="bold" textLength="22.94" lengthAdjust="spacingAndGlyphs">ɑnd</text>
<text transform="translate(12.7 0) rotate(-90)" x="-424.2" y="0" font-size="15.6" font-weight="bold" textLength="19.19" lengthAdjust="spacingAndGlyphs">ΔTo</text>
<text transform="translate(12.1 0) rotate(-90)" x="-397.91" y="0" font-size="15.6" font-weight="bold" textLength="5.43" lengthAdjust="spacingAndGlyphs">(</text>
<text transform="translate(12.7 0) rotate(-90)" x="-389.74" y="0" font-size="15.6" font-weight="bold" textLength="7.73" lengthAdjust="spacingAndGlyphs">C</text>
<circle cx="4.8" cy="391.15" r="1.15"/>
<text transform="translate(12.7 0) rotate(-90)" x="-373.72" y="0" font-size="15.6" font-weight="bold" textLength="6.71" lengthAdjust="spacingAndGlyphs">K</text>
<text transform="translate(6.8 0) rotate(-90)" x="-366.47" y="0" font-size="7" font-weight="bold" textLength="7.35" lengthAdjust="spacingAndGlyphs">−1</text>
<text transform="translate(12.1 0) rotate(-90)" x="-358.82" y="0" font-size="15.6" font-weight="bold" textLength="5.43" lengthAdjust="spacingAndGlyphs">)</text>
<text transform="translate(305.85 0) rotate(90)" x="332.54" y="0" font-size="15.6" font-weight="bold" textLength="46.79" lengthAdjust="spacingAndGlyphs">Surfɑce</text>
<text transform="translate(305.85 0) rotate(90)" x="386.52" y="0" font-size="15.6" font-weight="bold" textLength="40.14" lengthAdjust="spacingAndGlyphs">energy</text>
<text transform="translate(305.85 0) rotate(90)" x="434.49" y="0" font-size="15.6" font-weight="bold" textLength="21.9" lengthAdjust="spacingAndGlyphs">flux</text>
<text transform="translate(305.85 0) rotate(90)" x="464.08" y="0" font-size="15.6" font-weight="bold" textLength="23.04" lengthAdjust="spacingAndGlyphs">ɑnd</text>
<text transform="translate(305.85 0) rotate(90)" x="499.54" y="0" font-size="15.6" font-weight="bold" textLength="15.22" lengthAdjust="spacingAndGlyphs">λɑ</text>
<text transform="translate(305.6 0) rotate(90)" x="522.54" y="0" font-size="15.6" font-weight="bold" textLength="3.78" lengthAdjust="spacingAndGlyphs">(</text>
<text transform="translate(305.85 0) rotate(90)" x="528.19" y="0" font-size="15.6" font-weight="bold" textLength="8.22" lengthAdjust="spacingAndGlyphs">W</text>
<text transform="translate(305.85 0) rotate(90)" x="544.26" y="0" font-size="15.6" font-weight="bold" textLength="11.33" lengthAdjust="spacingAndGlyphs">m</text>
<text transform="translate(311.9 0) rotate(90)" x="555.41" y="0" font-size="7" font-weight="bold" textLength="7.86" lengthAdjust="spacingAndGlyphs">−2</text>
<text transform="translate(305.85 0) rotate(90)" x="570.66" y="0" font-size="15.6" font-weight="bold" textLength="6.93" lengthAdjust="spacingAndGlyphs">K</text>
<text transform="translate(311.9 0) rotate(90)" x="577.01" y="0" font-size="7" font-weight="bold" textLength="7.88" lengthAdjust="spacingAndGlyphs">−1</text>
<text transform="translate(305.6 0) rotate(90)" x="585.98" y="0" font-size="15.6" font-weight="bold" textLength="5.43" lengthAdjust="spacingAndGlyphs">)</text>
<line x1="498.45" y1="342.25" x2="498.45" y2="581.1" stroke="#444" stroke-width="1.2" stroke-dasharray="3.9 1.85" stroke-dashoffset="-0.3"/>
<line x1="606.4" y1="342.25" x2="606.4" y2="581.1" stroke="#444" stroke-width="1.2" stroke-dasharray="3.9 1.85" stroke-dashoffset="-0.3"/>
<rect x="421.59" y="461.7" width="7.65" height="98.05" fill="none" stroke="#1f3dff" stroke-width="1.9"/>
<rect x="420.64" y="461.7" width="9.55" height="25" fill="#1f3dff"/>
<rect x="431.34" y="461.7" width="9.65" height="21.6" fill="#ff3b3b"/>
<rect x="447.63" y="451.8" width="9.55" height="9.9" fill="#1f3dff"/>
<rect x="458.33" y="454" width="9.65" height="7.7" fill="#ff3b3b"/>
<rect x="474.62" y="356.8" width="9.55" height="104.9" fill="#1f3dff"/>
<rect x="485.32" y="422" width="9.65" height="39.7" fill="#ff3b3b"/>
<rect x="501.61" y="461.7" width="9.55" height="4.6" fill="#1f3dff"/>
<rect x="512.31" y="461.7" width="9.65" height="1.9" fill="#ff3b3b"/>
<rect x="528.59" y="431.1" width="9.55" height="30.6" fill="#1f3dff"/>
<rect x="539.29" y="461.7" width="9.65" height="1.9" fill="#ff3b3b"/>
<rect x="555.58" y="448.3" width="9.55" height="13.4" fill="#1f3dff"/>
<rect x="566.28" y="460.3" width="9.65" height="1.4" fill="#ff3b3b"/>
<rect x="582.57" y="396.7" width="9.55" height="65" fill="#1f3dff"/>
<rect x="593.27" y="420.1" width="9.65" height="41.6" fill="#ff3b3b"/>
<rect x="609.56" y="461.1" width="9.55" height="0.8" fill="#1f3dff"/>
<rect x="620.26" y="461.6" width="9.65" height="0.8" fill="#ff3b3b"/>
<line x1="417.3" y1="461.95" x2="633.2" y2="461.95" stroke="#3c3c3c" stroke-width="1.1"/>
<path d="M425.24 484.9V489.7" stroke="#000" stroke-width="1.8"/>
<path d="M423.64 485.55h3.2M423.64 489.05h3.2" stroke="#000" stroke-width="1.9" stroke-linecap="round"/>
<path d="M436.14 480.7V482.9" stroke="#000" stroke-width="1.8"/>
<path d="M434.54 481.35h3.2M434.54 482.25h3.2" stroke="#000" stroke-width="1.9" stroke-linecap="round"/>
<path d="M452.23 449.8V453.1" stroke="#000" stroke-width="1.8"/>
<path d="M450.63 450.45h3.2M450.63 452.45h3.2" stroke="#000" stroke-width="1.9" stroke-linecap="round"/>
<path d="M463.13 452.8V455.1" stroke="#000" stroke-width="1.8"/>
<path d="M461.53 453.45h3.2M461.53 454.45h3.2" stroke="#000" stroke-width="1.9" stroke-linecap="round"/>
<path d="M479.22 347V366.2" stroke="#000" stroke-width="1.8"/>
<path d="M477.62 347.65h3.2M477.62 365.55h3.2" stroke="#000" stroke-width="1.9" stroke-linecap="round"/>
<path d="M490.12 418.3V425.7" stroke="#000" stroke-width="1.8"/>
<path d="M488.52 418.95h3.2M488.52 425.05h3.2" stroke="#000" stroke-width="1.9" stroke-linecap="round"/>
<path d="M506.21 465.2V467.9" stroke="#000" stroke-width="1.8"/>
<path d="M504.61 465.85h3.2M504.61 467.25h3.2" stroke="#000" stroke-width="1.9" stroke-linecap="round"/>
<path d="M517.11 462.3V465.1" stroke="#000" stroke-width="1.8"/>
<path d="M515.51 462.95h3.2M515.51 464.45h3.2" stroke="#000" stroke-width="1.9" stroke-linecap="round"/>
<path d="M533.19 427.3V434.9" stroke="#000" stroke-width="1.8"/>
<path d="M531.59 427.95h3.2M531.59 434.25h3.2" stroke="#000" stroke-width="1.9" stroke-linecap="round"/>
<path d="M544.09 462.1V465.9" stroke="#000" stroke-width="1.8"/>
<path d="M542.49 462.75h3.2M542.49 465.25h3.2" stroke="#000" stroke-width="1.9" stroke-linecap="round"/>
<path d="M560.18 444.7V451.4" stroke="#000" stroke-width="1.8"/>
<path d="M558.58 445.35h3.2M558.58 450.75h3.2" stroke="#000" stroke-width="1.9" stroke-linecap="round"/>
<path d="M571.08 458.4V461.4" stroke="#000" stroke-width="1.8"/>
<path d="M569.48 459.05h3.2M569.48 460.75h3.2" stroke="#000" stroke-width="1.9" stroke-linecap="round"/>
<path d="M587.17 391.2V402.5" stroke="#000" stroke-width="1.8"/>
<path d="M585.57 391.85h3.2M585.57 401.85h3.2" stroke="#000" stroke-width="1.9" stroke-linecap="round"/>
<path d="M598.07 417.9V422.1" stroke="#000" stroke-width="1.8"/>
<path d="M596.47 418.55h3.2M596.47 421.45h3.2" stroke="#000" stroke-width="1.9" stroke-linecap="round"/>
<path d="M614.16 460.2V462.5" stroke="#000" stroke-width="1.8"/>
<path d="M612.56 460.85h3.2M612.56 461.85h3.2" stroke="#000" stroke-width="1.9" stroke-linecap="round"/>
<path d="M625.06 461.2V462.3" stroke="#000" stroke-width="1.8"/>
<path d="M623.46 461.85h3.2M623.46 461.65h3.2" stroke="#000" stroke-width="1.9" stroke-linecap="round"/>
<rect x="417.3" y="342.25" width="215.9" height="238.85" fill="none" stroke="#000" stroke-width="2"/>
<line x1="412.7" y1="342.25" x2="417.3" y2="342.25" stroke="#000" stroke-width="1"/>
<path d="M397.97 337.35V347" stroke="#000" stroke-width="1.4"/>
<path d="M398.07 337.9L396.2 339.8" stroke="#000" stroke-width="1.33" stroke-linecap="round"/>
<text transform="translate(401.88 347) scale(0.95 1)" font-size="13.8" stroke="#000" stroke-width="0.3">5</text>
<line x1="412.7" y1="382.06" x2="417.3" y2="382.06" stroke="#000" stroke-width="1"/>
<path d="M397.97 377.16V386.81" stroke="#000" stroke-width="1.4"/>
<path d="M398.07 377.71L396.2 379.61" stroke="#000" stroke-width="1.33" stroke-linecap="round"/>
<text transform="translate(402.11 386.81) scale(0.91 1)" font-size="13.8" stroke="#000" stroke-width="0.3">0</text>
<line x1="412.7" y1="421.87" x2="417.3" y2="421.87" stroke="#000" stroke-width="1"/>
<text transform="translate(401.88 426.62) scale(0.95 1)" font-size="13.8" stroke="#000" stroke-width="0.3">5</text>
<line x1="412.7" y1="461.68" x2="417.3" y2="461.68" stroke="#000" stroke-width="1"/>
<text transform="translate(401.99 466.43) scale(0.94 1)" font-size="13.8" stroke="#000" stroke-width="0.3">0</text>
<line x1="412.7" y1="501.48" x2="417.3" y2="501.48" stroke="#000" stroke-width="1"/>
<text transform="translate(392.81 506.23) scale(1.01 1)" font-size="13.8" stroke="#000" stroke-width="0.3">−</text>
<text transform="translate(401.88 506.23) scale(0.95 1)" font-size="13.8" stroke="#000" stroke-width="0.3">5</text>
<line x1="412.7" y1="541.29" x2="417.3" y2="541.29" stroke="#000" stroke-width="1"/>
<text transform="translate(384.62 546.04) scale(1.15 1)" font-size="13.8" stroke="#000" stroke-width="0.3">−</text>
<path d="M397.97 536.39V546.04" stroke="#000" stroke-width="1.4"/>
<path d="M398.07 536.94L396.2 538.84" stroke="#000" stroke-width="1.33" stroke-linecap="round"/>
<text transform="translate(402.11 546.04) scale(0.91 1)" font-size="13.8" stroke="#000" stroke-width="0.3">0</text>
<line x1="412.7" y1="581.1" x2="417.3" y2="581.1" stroke="#000" stroke-width="1"/>
<text transform="translate(384.62 585.85) scale(1.15 1)" font-size="13.8" stroke="#000" stroke-width="0.3">−</text>
<path d="M397.97 576.2V585.85" stroke="#000" stroke-width="1.4"/>
<path d="M398.07 576.75L396.2 578.65" stroke="#000" stroke-width="1.33" stroke-linecap="round"/>
<text transform="translate(401.88 585.85) scale(0.95 1)" font-size="13.8" stroke="#000" stroke-width="0.3">5</text>
<line x1="633.2" y1="353.2" x2="637.2" y2="353.2" stroke="#000" stroke-width="1"/>
<path d="M645.1 348.45V358.1" stroke="#000" stroke-width="1.4"/>
<path d="M645.2 349L643.25 350.9" stroke="#000" stroke-width="1.33" stroke-linecap="round"/>
<text transform="translate(649.39 358.1) scale(0.96 1)" font-size="13.8" stroke="#000" stroke-width="0.3">0</text>
<line x1="633.2" y1="407.46" x2="637.2" y2="407.46" stroke="#000" stroke-width="1"/>
<text transform="translate(641.26 412.36) scale(0.98 1)" font-size="13.8" stroke="#000" stroke-width="0.3">5</text>
<line x1="633.2" y1="461.72" x2="637.2" y2="461.72" stroke="#000" stroke-width="1"/>
<text transform="translate(641.29 466.62) scale(0.96 1)" font-size="13.8" stroke="#000" stroke-width="0.3">0</text>
<line x1="633.2" y1="515.98" x2="637.2" y2="515.98" stroke="#000" stroke-width="1"/>
<text transform="translate(641.97 520.88) scale(1.07 1)" font-size="13.8" stroke="#000" stroke-width="0.3">−</text>
<text transform="translate(650.96 520.88) scale(0.98 1)" font-size="13.8" stroke="#000" stroke-width="0.3">5</text>
<line x1="633.2" y1="570.24" x2="637.2" y2="570.24" stroke="#000" stroke-width="1"/>
<text transform="translate(641.97 575.14) scale(1.07 1)" font-size="13.8" stroke="#000" stroke-width="0.3">−</text>
<path d="M655.15 565.49V575.14" stroke="#000" stroke-width="1.4"/>
<path d="M655.25 566.04L653.15 567.94" stroke="#000" stroke-width="1.33" stroke-linecap="round"/>
<text transform="translate(659.1 575.14) scale(0.92 1)" font-size="13.8" stroke="#000" stroke-width="0.3">0</text>
<line x1="430.79" y1="581.1" x2="430.79" y2="586.1" stroke="#000" stroke-width="1"/>
<text transform="translate(417.74 597.4) scale(0.74 1)" font-size="12" stroke="#000" stroke-width="0.35">Δ</text>
<text transform="translate(423.61 597.4) scale(0.74 1)" font-size="12" stroke="#000" stroke-width="0.35">S</text>
<text transform="translate(429.48 597.4) scale(0.74 1)" font-size="12" stroke="#000" stroke-width="0.35">I</text>
<text transform="translate(431.89 597.4) scale(0.74 1)" font-size="12" stroke="#000" stroke-width="0.35">A</text>
<line x1="457.78" y1="581.1" x2="457.78" y2="586.1" stroke="#000" stroke-width="1"/>
<text transform="translate(447.14 597.4) scale(0.74 1)" font-size="12" stroke="#000" stroke-width="0.35">Δ</text>
<text transform="translate(452.89 597.4) scale(0.74 1)" font-size="12" stroke="#000" stroke-width="0.35">T</text>
<text transform="translate(458.13 597.4) scale(0.74 1)" font-size="12" stroke="#000" stroke-width="0.35">o</text>
<line x1="484.77" y1="581.1" x2="484.77" y2="586.1" stroke="#000" stroke-width="1"/>
<text transform="translate(471.24 597.4) scale(0.74 1)" font-size="12" stroke="#000" stroke-width="0.35">Δ</text>
<text transform="translate(476.66 597.4) scale(0.74 1)" font-size="12" stroke="#000" stroke-width="0.35">N</text>
<text transform="translate(482.56 597.4) scale(0.74 1)" font-size="12" stroke="#000" stroke-width="0.35">E</text>
<text transform="translate(487.98 597.4) scale(0.74 1)" font-size="12" stroke="#000" stroke-width="0.35">T</text>
<line x1="511.76" y1="581.1" x2="511.76" y2="586.1" stroke="#000" stroke-width="1"/>
<text transform="translate(499.34 597.4) scale(0.74 1)" font-size="12" stroke="#000" stroke-width="0.35">Δ</text>
<text transform="translate(505.17 597.4) scale(0.74 1)" font-size="12" stroke="#000" stroke-width="0.35">S</text>
<text transform="translate(511 597.4) scale(0.74 1)" font-size="12" stroke="#000" stroke-width="0.35">R</text>
<line x1="538.74" y1="581.1" x2="538.74" y2="586.1" stroke="#000" stroke-width="1"/>
<text transform="translate(527.34 597.4) scale(0.74 1)" font-size="12" stroke="#000" stroke-width="0.35">Δ</text>
<text transform="translate(533.11 597.4) scale(0.74 1)" font-size="12" stroke="#000" stroke-width="0.35">L</text>
<text transform="translate(537.9 597.4) scale(0.74 1)" font-size="12" stroke="#000" stroke-width="0.35">R</text>
<line x1="565.73" y1="581.1" x2="565.73" y2="586.1" stroke="#000" stroke-width="1"/>
<text transform="translate(554.14 597.4) scale(0.74 1)" font-size="12" stroke="#000" stroke-width="0.35">Δ</text>
<text transform="translate(559.93 597.4) scale(0.74 1)" font-size="12" stroke="#000" stroke-width="0.35">S</text>
<text transform="translate(565.71 597.4) scale(0.74 1)" font-size="12" stroke="#000" stroke-width="0.35">H</text>
<line x1="592.72" y1="581.1" x2="592.72" y2="586.1" stroke="#000" stroke-width="1"/>
<text transform="translate(581.14 597.4) scale(0.74 1)" font-size="12" stroke="#000" stroke-width="0.35">Δ</text>
<text transform="translate(587.27 597.4) scale(0.74 1)" font-size="12" stroke="#000" stroke-width="0.35">L</text>
<text transform="translate(592.41 597.4) scale(0.74 1)" font-size="12" stroke="#000" stroke-width="0.35">H</text>
<line x1="619.71" y1="581.1" x2="619.71" y2="586.1" stroke="#000" stroke-width="1"/>
<text transform="translate(616.94 597.4) scale(0.74 1)" font-size="12" stroke="#000" stroke-width="0.35">λ</text>
<text transform="translate(623.43 597.4) scale(0.74 1)" font-size="12" stroke="#000" stroke-width="0.35">ɑ</text>
<text transform="translate(417.09 329.1) scale(0.76 1)" font-size="17" stroke="#000" stroke-width="0.35">O</text>
<text transform="translate(428.45 329.1) scale(0.76 1)" font-size="17" stroke="#000" stroke-width="0.35">N</text>
<text transform="translate(439.09 329.1) scale(0.76 1)" font-size="17" stroke="#000" stroke-width="0.35">D</text>
<text transform="translate(457.93 329.1) scale(0.85 1)" font-size="17" stroke="#000" stroke-width="0.35">i</text>
<text transform="translate(463.3 329.1) scale(0.85 1)" font-size="17" stroke="#000" stroke-width="0.35">n</text>
<text transform="translate(479.93 329.1) scale(0.9 1)" font-size="17" stroke="#000" stroke-width="0.35">2</text>
<text transform="translate(489.75 329.1) scale(0.9 1)" font-size="17" stroke="#000" stroke-width="0.35">0</text>
<text transform="translate(499.57 329.1) scale(0.9 1)" font-size="17" stroke="#000" stroke-width="0.35">8</text>
<text transform="translate(509.39 329.1) scale(0.9 1)" font-size="17" stroke="#000" stroke-width="0.35">0</text>
<text transform="translate(519.21 329.1) scale(0.95 1)" font-size="17" stroke="#000" stroke-width="0.35">−</text>
<text transform="translate(529.95 329.1) scale(0.9 1)" font-size="17" stroke="#000" stroke-width="0.35">2</text>
<text transform="translate(539.77 329.1) scale(0.9 1)" font-size="17" stroke="#000" stroke-width="0.35">0</text>
<text transform="translate(549.6 329.1) scale(0.9 1)" font-size="17" stroke="#000" stroke-width="0.35">9</text>
<text transform="translate(559.42 329.1) scale(0.9 1)" font-size="17" stroke="#000" stroke-width="0.35">9</text>
<text x="369.41" y="330" font-size="19" stroke="#000" stroke-width="0.35" textLength="10.51" lengthAdjust="spacingAndGlyphs">d</text>
<text transform="translate(379.2 0) rotate(-90)" x="-576.93" y="0" font-size="15.6" font-weight="bold" textLength="25.52" lengthAdjust="spacingAndGlyphs">ΔSIA</text>
<text transform="translate(378.6 0) rotate(-90)" x="-543.08" y="0" font-size="15.6" font-weight="bold" textLength="3.89" lengthAdjust="spacingAndGlyphs">(</text>
<g transform="translate(379.2 0) rotate(-90)"><path d="M-534.85 -10.45V0" stroke="#000" stroke-width="1.9"/><path d="M-534.75 -9.8L-536.6 -7.5" stroke="#000" stroke-width="1.71" stroke-linecap="round"/></g>
<text transform="translate(379.2 0) rotate(-90)" x="-531.07" y="0" font-size="15.6" font-weight="bold" textLength="6.67" lengthAdjust="spacingAndGlyphs">0</text>
<text transform="translate(373.3 0) rotate(-90)" x="-523.08" y="0" font-size="7" font-weight="bold" textLength="2.76" lengthAdjust="spacingAndGlyphs">6</text>
<text transform="translate(379.2 0) rotate(-90)" x="-513.2" y="0" font-size="15.6" font-weight="bold" textLength="18.71" lengthAdjust="spacingAndGlyphs">km</text>
<text transform="translate(373.3 0) rotate(-90)" x="-494.11" y="0" font-size="7" font-weight="bold" textLength="3.35" lengthAdjust="spacingAndGlyphs">2</text>
<text transform="translate(379.2 0) rotate(-90)" x="-483.06" y="0" font-size="15.6" font-weight="bold" textLength="7.15" lengthAdjust="spacingAndGlyphs">K</text>
<text transform="translate(373.3 0) rotate(-90)" x="-475.45" y="0" font-size="7" font-weight="bold" textLength="6.92" lengthAdjust="spacingAndGlyphs">−1</text>
<text transform="translate(378.6 0) rotate(-90)" x="-467.42" y="0" font-size="15.6" font-weight="bold" textLength="5.43" lengthAdjust="spacingAndGlyphs">)</text>
<text transform="translate(379.2 0) rotate(-90)" x="-455.91" y="0" font-size="15.6" font-weight="bold" textLength="22.94" lengthAdjust="spacingAndGlyphs">ɑnd</text>
<text transform="translate(379.2 0) rotate(-90)" x="-424.2" y="0" font-size="15.6" font-weight="bold" textLength="19.19" lengthAdjust="spacingAndGlyphs">ΔTo</text>
<text transform="translate(378.6 0) rotate(-90)" x="-397.91" y="0" font-size="15.6" font-weight="bold" textLength="5.43" lengthAdjust="spacingAndGlyphs">(</text>
<text transform="translate(379.2 0) rotate(-90)" x="-389.74" y="0" font-size="15.6" font-weight="bold" textLength="7.73" lengthAdjust="spacingAndGlyphs">C</text>
<circle cx="371.3" cy="391.15" r="1.15"/>
<text transform="translate(379.2 0) rotate(-90)" x="-373.72" y="0" font-size="15.6" font-weight="bold" textLength="6.71" lengthAdjust="spacingAndGlyphs">K</text>
<text transform="translate(373.3 0) rotate(-90)" x="-366.47" y="0" font-size="7" font-weight="bold" textLength="7.35" lengthAdjust="spacingAndGlyphs">−1</text>
<text transform="translate(378.6 0) rotate(-90)" x="-358.82" y="0" font-size="15.6" font-weight="bold" textLength="5.43" lengthAdjust="spacingAndGlyphs">)</text>
<text transform="translate(672.35 0) rotate(90)" x="332.54" y="0" font-size="15.6" font-weight="bold" textLength="46.79" lengthAdjust="spacingAndGlyphs">Surfɑce</text>
<text transform="translate(672.35 0) rotate(90)" x="386.52" y="0" font-size="15.6" font-weight="bold" textLength="40.14" lengthAdjust="spacingAndGlyphs">energy</text>
<text transform="translate(672.35 0) rotate(90)" x="434.49" y="0" font-size="15.6" font-weight="bold" textLength="21.9" lengthAdjust="spacingAndGlyphs">flux</text>
<text transform="translate(672.35 0) rotate(90)" x="464.08" y="0" font-size="15.6" font-weight="bold" textLength="23.04" lengthAdjust="spacingAndGlyphs">ɑnd</text>
<text transform="translate(672.35 0) rotate(90)" x="499.54" y="0" font-size="15.6" font-weight="bold" textLength="15.22" lengthAdjust="spacingAndGlyphs">λɑ</text>
<text transform="translate(672.1 0) rotate(90)" x="522.54" y="0" font-size="15.6" font-weight="bold" textLength="3.78" lengthAdjust="spacingAndGlyphs">(</text>
<text transform="translate(672.35 0) rotate(90)" x="528.19" y="0" font-size="15.6" font-weight="bold" textLength="8.22" lengthAdjust="spacingAndGlyphs">W</text>
<text transform="translate(672.35 0) rotate(90)" x="544.26" y="0" font-size="15.6" font-weight="bold" textLength="11.33" lengthAdjust="spacingAndGlyphs">m</text>
<text transform="translate(678.4 0) rotate(90)" x="555.41" y="0" font-size="7" font-weight="bold" textLength="7.86" lengthAdjust="spacingAndGlyphs">−2</text>
<text transform="translate(672.35 0) rotate(90)" x="570.66" y="0" font-size="15.6" font-weight="bold" textLength="6.93" lengthAdjust="spacingAndGlyphs">K</text>
<text transform="translate(678.4 0) rotate(90)" x="577.01" y="0" font-size="7" font-weight="bold" textLength="7.88" lengthAdjust="spacingAndGlyphs">−1</text>
<text transform="translate(672.1 0) rotate(90)" x="585.98" y="0" font-size="15.6" font-weight="bold" textLength="5.43" lengthAdjust="spacingAndGlyphs">)</text>
<rect x="59.1" y="35.3" width="11.9" height="11.4" fill="#1f3dff"/>
<rect x="59.1" y="54.3" width="11.9" height="11.4" fill="#ff3b3b"/>
<text transform="translate(74.81 45.6) scale(0.68 1)" font-size="12.8" fill="#1f3dff" stroke="#1f3dff" stroke-width="0.3">S</text>
<text transform="translate(81.61 45.6) scale(0.68 1)" font-size="12.8" fill="#1f3dff" stroke="#1f3dff" stroke-width="0.3">S</text>
<text transform="translate(88.15 45.6) scale(0.81 1)" font-size="12.8" fill="#1f3dff" stroke="#1f3dff" stroke-width="0.3">P</text>
<path d="M98.83 36.75V45.6" stroke="#1f3dff" stroke-width="1.35"/>
<path d="M98.92 37.3L96.95 39.2" stroke="#1f3dff" stroke-width="1.28" stroke-linecap="round"/>
<text transform="translate(102.05 45.6) scale(1.03 1)" font-size="12.8" fill="#1f3dff" stroke="#1f3dff" stroke-width="0.3">−</text>
<text transform="translate(110.2 45.6) scale(0.93 1)" font-size="12.8" fill="#1f3dff" stroke="#1f3dff" stroke-width="0.3">2</text>
<text transform="translate(115.69 45.6) scale(1.72 1)" font-size="12.8" fill="#1f3dff" stroke="#1f3dff" stroke-width="0.3">.</text>
<text transform="translate(121.79 45.6) scale(0.78 1)" font-size="12.8" fill="#1f3dff" stroke="#1f3dff" stroke-width="0.3">6</text>
<text transform="translate(74.7 64.9) scale(0.69 1)" font-size="12.8" fill="#ff3b3b" stroke="#ff3b3b" stroke-width="0.3">S</text>
<text transform="translate(81.49 64.9) scale(0.71 1)" font-size="12.8" fill="#ff3b3b" stroke="#ff3b3b" stroke-width="0.3">S</text>
<text transform="translate(88.31 64.9) scale(0.75 1)" font-size="12.8" fill="#ff3b3b" stroke="#ff3b3b" stroke-width="0.3">P</text>
<text transform="translate(95.93 64.9) scale(0.73 1)" font-size="12.8" fill="#ff3b3b" stroke="#ff3b3b" stroke-width="0.3">5</text>
<text transform="translate(102.05 64.9) scale(1.03 1)" font-size="12.8" fill="#ff3b3b" stroke="#ff3b3b" stroke-width="0.3">−</text>
<text transform="translate(110.76 64.9) scale(0.8 1)" font-size="12.8" fill="#ff3b3b" stroke="#ff3b3b" stroke-width="0.3">8</text>
<text transform="translate(115.68 64.9) scale(1.64 1)" font-size="12.8" fill="#ff3b3b" stroke="#ff3b3b" stroke-width="0.3">.</text>
<text transform="translate(121.19 64.9) scale(0.79 1)" font-size="12.8" fill="#ff3b3b" stroke="#ff3b3b" stroke-width="0.3">5</text>
</svg>
</body></html>
